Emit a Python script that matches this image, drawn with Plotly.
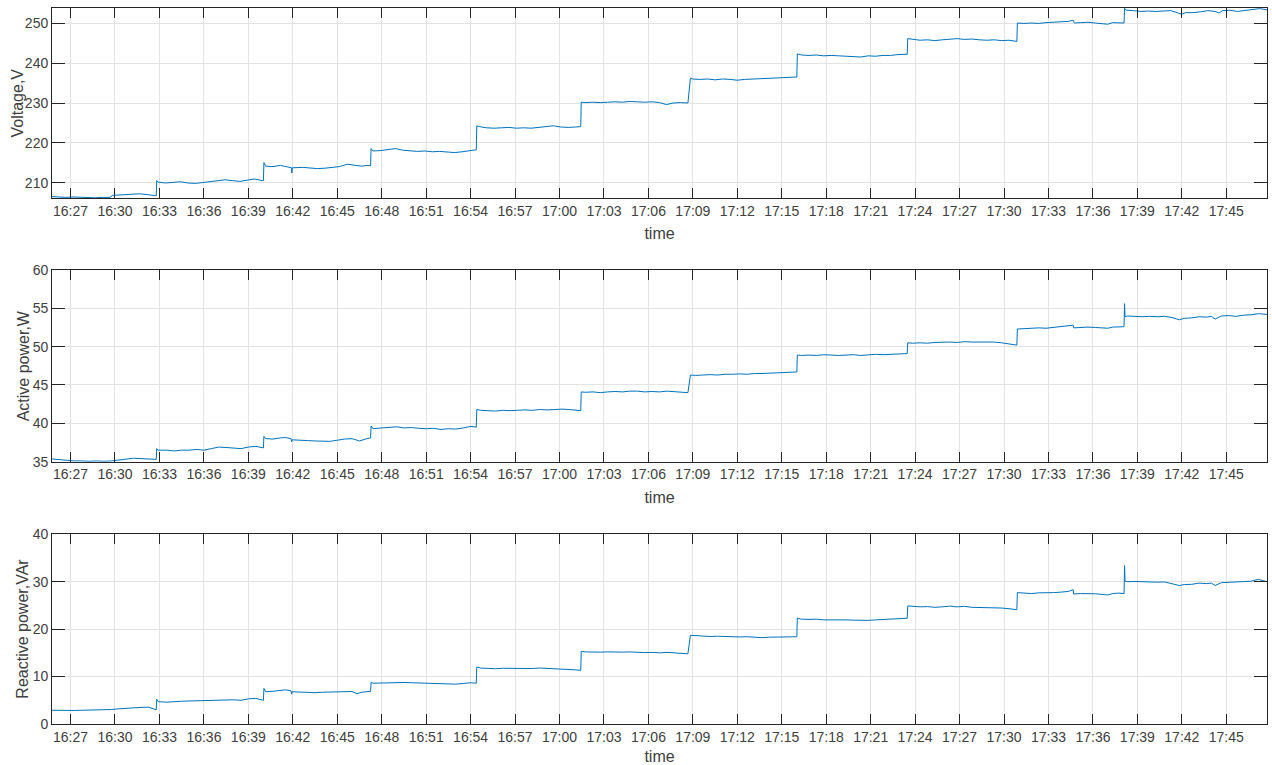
import plotly.graph_objects as go
import pandas as pd

DAY = "2020-01-01 "

# ---------------- Voltage, V ----------------
v_time = ["16:25:45","16:26:10","16:26:40","16:27:10","16:27:40","16:28:10","16:28:40","16:29:10","16:29:40","16:29:50",
          "16:30:20","16:30:50","16:31:10","16:31:40","16:32:10","16:32:40","16:32:47","16:32:49","16:32:55","16:33:25",
          "16:33:55","16:34:25","16:34:55","16:35:25","16:35:55","16:36:25","16:36:55","16:37:25","16:37:55","16:38:25",
          "16:38:55","16:39:25","16:39:55","16:40:01","16:40:03","16:40:10","16:40:40","16:41:10","16:41:40","16:41:55",
          "16:41:56","16:41:58","16:42:40","16:43:10","16:43:40","16:44:10","16:44:40","16:45:10","16:45:40","16:46:10",
          "16:46:40","16:47:00","16:47:15","16:47:17","16:47:25","16:47:55","16:48:25","16:48:55","16:49:25","16:49:55",
          "16:50:25","16:50:55","16:51:25","16:51:55","16:52:25","16:52:55","16:53:25","16:53:55","16:54:23","16:54:25",
          "16:54:35","16:55:05","16:55:35","16:56:05","16:56:35","16:57:05","16:57:35","16:58:05","16:58:35","16:59:05",
          "16:59:35","17:00:05","17:00:35","17:01:05","17:01:26","17:01:28","17:01:45","17:02:15","17:02:45","17:03:15",
          "17:03:45","17:04:15","17:04:45","17:05:15","17:05:45","17:06:15","17:06:45","17:07:13","17:07:40","17:08:10",
          "17:08:40","17:08:50","17:09:00","17:09:30","17:10:00","17:10:30","17:11:00","17:11:30","17:12:00","17:12:30",
          "17:13:00","17:13:30","17:14:00","17:14:30","17:15:00","17:15:40","17:16:01","17:16:03","17:16:20","17:16:50",
          "17:17:20","17:17:50","17:18:20","17:18:50","17:19:20","17:19:50","17:20:20","17:20:50","17:21:20","17:21:50",
          "17:22:20","17:22:50","17:23:28","17:23:30","17:23:50","17:24:20","17:24:50","17:25:20","17:25:50","17:26:20",
          "17:26:50","17:27:20","17:27:50","17:28:20","17:28:50","17:29:20","17:29:50","17:30:20","17:30:40","17:30:52",
          "17:30:54","17:31:20","17:31:50","17:32:20","17:32:50","17:33:20","17:33:50","17:34:20","17:34:40","17:34:45",
          "17:35:10","17:35:40","17:36:10","17:36:40","17:37:00","17:37:20","17:37:45","17:38:06","17:38:08","17:38:15",
          "17:38:45","17:39:15","17:39:45","17:40:15","17:40:45","17:41:15","17:41:45","17:42:00","17:42:15","17:42:45",
          "17:43:15","17:43:45","17:44:15","17:44:30","17:44:45","17:45:15","17:45:45","17:46:15","17:46:45","17:47:15",
          "17:47:45"]
v_val = [206.6,206.5,206.4,206.5,206.4,206.4,206.3,206.4,206.4,206.9,
         207.0,207.1,207.3,207.3,207.1,207.0,206.8,210.6,210.2,210.0,
         210.1,210.3,210.0,209.9,210.1,210.3,210.5,210.8,210.6,210.4,
         210.7,211.0,210.6,210.6,215.1,214.2,214.1,214.4,214.0,213.8,
         212.5,213.8,213.9,213.7,213.6,213.7,213.9,214.1,214.7,214.4,
         214.2,214.4,214.3,218.6,218.0,218.1,218.3,218.6,218.2,218.0,
         217.9,218.0,217.8,217.9,217.7,217.6,217.8,218.0,218.3,224.3,
         224.1,223.8,223.7,223.8,223.9,223.7,223.8,223.7,223.9,224.1,
         224.3,224.0,223.9,224.0,224.1,230.2,230.1,230.2,230.1,230.2,
         230.3,230.2,230.4,230.3,230.2,230.3,230.1,229.6,230.0,230.1,
         230.0,236.2,236.0,235.9,236.0,235.8,236.0,235.9,235.7,235.9,
         236.0,236.1,236.2,236.3,236.4,236.6,236.5,242.3,242.0,241.9,
         242.0,241.8,241.9,241.8,241.7,241.6,241.5,241.8,241.7,241.9,
         241.9,242.1,242.2,246.1,245.9,245.7,245.8,245.6,245.8,246.0,
         246.1,245.9,246.0,245.8,245.7,245.8,245.6,245.7,245.5,245.4,
         250.0,249.9,250.0,249.9,250.1,250.2,250.3,250.4,250.7,250.0,
         250.1,250.2,250.0,249.8,249.7,250.1,250.0,250.0,253.7,253.2,
         253.1,252.9,253.0,252.9,253.0,253.1,252.5,252.2,252.6,252.6,
         252.8,253.1,252.9,252.5,253.1,253.2,252.9,253.1,253.4,253.6,
         253.3]

# ---------------- Active power, W ----------------
p_time = ["16:25:45","16:26:15","16:26:45","16:27:15","16:27:45","16:28:15","16:28:45","16:29:15","16:29:45","16:30:15",
          "16:30:45","16:31:15","16:31:45","16:32:15","16:32:47","16:32:49","16:32:55","16:33:30","16:34:00","16:34:30",
          "16:35:00","16:35:30","16:36:00","16:36:30","16:37:00","16:37:30","16:38:00","16:38:30","16:39:00","16:39:30",
          "16:40:01","16:40:03","16:40:10","16:40:40","16:41:10","16:41:30","16:41:53","16:41:55","16:41:57","16:42:30",
          "16:43:00","16:43:30","16:44:00","16:44:30","16:45:00","16:45:30","16:46:00","16:46:30","16:47:00","16:47:15",
          "16:47:17","16:47:25","16:48:00","16:48:30","16:49:00","16:49:30","16:50:00","16:50:30","16:51:00","16:51:30",
          "16:52:00","16:52:30","16:53:00","16:53:30","16:54:00","16:54:23","16:54:25","16:54:40","16:55:10","16:55:40",
          "16:56:10","16:56:40","16:57:10","16:57:40","16:58:10","16:58:40","16:59:10","16:59:40","17:00:10","17:00:40",
          "17:01:10","17:01:26","17:01:28","17:01:45","17:02:15","17:02:45","17:03:15","17:03:45","17:04:15","17:04:45",
          "17:05:15","17:05:45","17:06:15","17:06:45","17:07:15","17:07:45","17:08:15","17:08:40","17:08:50","17:09:10",
          "17:09:40","17:10:10","17:10:40","17:11:10","17:11:40","17:12:10","17:12:40","17:13:10","17:13:40","17:14:10",
          "17:14:40","17:15:10","17:15:40","17:16:01","17:16:03","17:16:20","17:16:50","17:17:20","17:17:50","17:18:20",
          "17:18:50","17:19:20","17:19:50","17:20:20","17:20:50","17:21:20","17:21:50","17:22:20","17:22:50","17:23:28",
          "17:23:30","17:23:50","17:24:20","17:24:50","17:25:20","17:25:50","17:26:20","17:26:50","17:27:20","17:27:50",
          "17:28:20","17:28:50","17:29:20","17:29:50","17:30:20","17:30:45","17:30:52","17:30:54","17:31:20","17:31:50",
          "17:32:20","17:32:50","17:33:20","17:33:50","17:34:20","17:34:40","17:34:42","17:35:10","17:35:40","17:36:10",
          "17:36:40","17:37:00","17:37:20","17:37:45","17:38:06","17:38:08","17:38:10","17:38:20","17:38:50","17:39:20",
          "17:39:50","17:40:20","17:40:50","17:41:20","17:41:40","17:41:50","17:42:10","17:42:40","17:43:10","17:43:40",
          "17:44:00","17:44:15","17:44:40","17:45:10","17:45:40","17:46:10","17:46:40","17:47:10","17:47:45"]
p_val = [35.35,35.25,35.2,35.1,35.1,35.05,35.1,35.05,35.1,35.2,
         35.35,35.45,35.4,35.35,35.3,36.7,36.5,36.5,36.4,36.5,
         36.5,36.6,36.5,36.7,36.9,36.85,36.8,36.7,36.9,37.0,
         36.8,38.3,38.0,37.95,38.1,38.15,38.0,37.6,37.85,37.75,
         37.75,37.7,37.7,37.65,37.8,37.95,38.0,37.7,38.0,38.1,
         39.65,39.3,39.4,39.5,39.55,39.4,39.45,39.35,39.3,39.35,
         39.2,39.3,39.25,39.4,39.6,39.5,41.8,41.7,41.65,41.6,
         41.7,41.65,41.7,41.75,41.7,41.8,41.75,41.8,41.85,41.8,
         41.7,41.65,44.1,44.05,44.1,44.0,44.1,44.15,44.1,44.2,
         44.2,44.1,44.15,44.1,44.2,44.1,44.05,44.0,46.3,46.25,
         46.3,46.35,46.3,46.4,46.4,46.45,46.4,46.5,46.5,46.55,
         46.6,46.65,46.7,46.7,48.9,48.85,48.9,48.85,48.95,48.9,
         48.85,48.9,48.95,48.85,48.9,49.0,48.95,49.0,49.05,49.1,
         50.5,50.45,50.5,50.45,50.55,50.6,50.6,50.55,50.65,50.6,
         50.6,50.55,50.6,50.5,50.4,50.25,50.2,52.3,52.35,52.4,
         52.45,52.4,52.5,52.6,52.65,52.8,52.45,52.5,52.55,52.5,
         52.45,52.4,52.55,52.6,52.6,55.6,53.9,54.0,53.95,53.9,
         53.95,53.9,53.95,53.8,53.6,53.5,53.7,53.75,53.9,53.85,
         53.95,53.6,54.0,54.05,53.95,54.1,54.15,54.3,54.2]

# ---------------- Reactive power, VAr ----------------
q_time = ["16:25:45","16:26:15","16:26:45","16:27:15","16:27:45","16:28:15","16:28:45","16:29:15","16:29:45","16:30:15",
          "16:30:45","16:31:15","16:31:45","16:32:15","16:32:47","16:32:49","16:32:55","16:33:30","16:34:00","16:34:30",
          "16:35:00","16:35:30","16:36:00","16:36:30","16:37:00","16:37:30","16:38:00","16:38:30","16:39:00","16:39:30",
          "16:40:01","16:40:03","16:40:10","16:40:40","16:41:10","16:41:30","16:41:53","16:41:55","16:41:57","16:42:30",
          "16:43:00","16:43:30","16:44:00","16:44:30","16:45:00","16:45:30","16:46:00","16:46:20","16:46:40","16:47:15",
          "16:47:17","16:47:25","16:48:00","16:48:30","16:49:00","16:49:30","16:50:00","16:50:30","16:51:00","16:51:30",
          "16:52:00","16:52:30","16:53:00","16:53:30","16:54:00","16:54:23","16:54:25","16:54:40","16:55:10","16:55:40",
          "16:56:10","16:56:40","16:57:10","16:57:40","16:58:10","16:58:40","16:59:10","16:59:40","17:00:10","17:00:40",
          "17:01:10","17:01:26","17:01:28","17:01:45","17:02:15","17:02:45","17:03:15","17:03:45","17:04:15","17:04:45",
          "17:05:15","17:05:45","17:06:15","17:06:45","17:07:15","17:07:45","17:08:15","17:08:40","17:08:50","17:09:10",
          "17:09:40","17:10:10","17:10:40","17:11:10","17:11:40","17:12:10","17:12:40","17:13:10","17:13:40","17:14:10",
          "17:14:40","17:15:10","17:15:40","17:16:01","17:16:03","17:16:20","17:16:50","17:17:20","17:17:50","17:18:20",
          "17:18:50","17:19:20","17:19:50","17:20:20","17:20:50","17:21:20","17:21:50","17:22:20","17:22:50","17:23:28",
          "17:23:30","17:23:50","17:24:20","17:24:50","17:25:20","17:25:50","17:26:20","17:26:50","17:27:20","17:27:50",
          "17:28:20","17:28:50","17:29:20","17:29:50","17:30:20","17:30:45","17:30:52","17:30:54","17:31:20","17:31:50",
          "17:32:20","17:32:50","17:33:20","17:33:50","17:34:20","17:34:40","17:34:42","17:35:10","17:35:40","17:36:10",
          "17:36:40","17:37:00","17:37:20","17:37:45","17:38:06","17:38:08","17:38:10","17:38:20","17:38:50","17:39:20",
          "17:39:50","17:40:20","17:40:50","17:41:20","17:41:40","17:41:50","17:42:10","17:42:40","17:43:10","17:43:40",
          "17:44:00","17:44:15","17:44:40","17:45:10","17:45:40","17:46:10","17:46:40","17:47:10","17:47:45"]
q_val = [2.9,2.85,2.8,2.85,2.9,2.9,2.95,3.0,3.05,3.2,
         3.35,3.45,3.5,3.55,3.0,5.2,4.7,4.6,4.75,4.8,
         4.85,4.9,4.95,5.0,5.15,5.2,5.1,5.0,5.3,5.4,
         5.0,7.5,6.8,6.9,7.0,7.2,7.0,6.3,6.8,6.7,
         6.65,6.6,6.7,6.75,6.8,6.7,6.85,6.4,6.7,6.9,
         8.8,8.6,8.65,8.7,8.8,8.75,8.7,8.65,8.6,8.55,
         8.5,8.45,8.4,8.55,8.7,8.6,12.0,11.8,11.7,11.65,
         11.75,11.7,11.8,11.75,11.7,11.8,11.75,11.65,11.6,11.5,
         11.4,11.3,15.3,15.2,15.1,15.15,15.2,15.1,15.15,15.2,
         15.1,15.05,15.1,15.0,15.1,15.0,14.9,14.8,18.7,18.6,
         18.5,18.45,18.5,18.4,18.45,18.35,18.4,18.3,18.2,18.3,
         18.35,18.4,18.5,18.4,22.3,22.1,22.05,22.1,21.95,22.0,
         22.05,21.95,21.9,21.8,21.85,21.95,22.0,22.1,22.2,22.3,
         24.9,24.8,24.7,24.75,24.6,24.7,24.85,24.7,24.8,24.6,
         24.55,24.5,24.6,24.45,24.3,24.2,24.1,27.7,27.6,27.5,
         27.65,27.6,27.7,27.8,27.95,28.3,27.4,27.5,27.55,27.45,
         27.3,27.2,27.5,27.6,27.5,33.4,30.1,30.0,30.05,29.95,
         30.0,29.9,29.95,29.6,29.3,29.2,29.4,29.45,29.7,29.6,
         29.7,29.2,29.8,29.85,29.9,30.0,30.1,30.5,30.0]

x_start = DAY + "16:25:45"
x_end = DAY + "17:47:45"
tick_vals = pd.date_range(DAY + "16:27:00", DAY + "17:45:00", freq="3min")

LINE = "#0072BD"
AX = "#262626"
GRID = "#e3e3e3"
TXT = "#404040"
NARROW = "Liberation Sans Narrow, Arial Narrow, Liberation Sans, Arial, sans-serif"
REG = "Liberation Sans, Arial, sans-serif"

# (times, values, y title, y range, y tick step, y domain, y-title x position in px)
panels = [
    (v_time, v_val, "Voltage,V", [206.25, 253.75], 10, [0.7412, 0.9895], 17.5),
    (p_time, p_val, "Active power,W", [35, 60], 5, [0.3965, 0.6471], 23.5),
    (q_time, q_val, "Reactive power,VAr", [0, 40], 10, [0.0536, 0.3016], 22.5),
]

W, H = 1272, 765
fig = go.Figure()
layout = dict(
    width=W, height=H,
    margin=dict(l=0, r=0, t=0, b=0, autoexpand=False),
    paper_bgcolor="white", plot_bgcolor="white",
    showlegend=False,
)
annotations = []
for i, (t, vals, ylab, yr, dt, dom, tx) in enumerate(panels, start=1):
    xs = pd.to_datetime([DAY + s for s in t])
    fig.add_trace(go.Scatter(x=xs, y=vals, mode="lines",
                             line=dict(color=LINE, width=1),
                             xaxis=f"x{i}", yaxis=f"y{i}"))
    xa = dict(
        domain=[0.0409, 0.9961], anchor=f"y{i}",
        range=[x_start, x_end], type="date",
        tickvals=list(tick_vals), tickformat="%H:%M",
        ticks="inside", ticklen=10, tickcolor=AX, tickwidth=1,
        showline=True, linecolor=AX, linewidth=1, mirror="allticks",
        showgrid=True, gridcolor=GRID, gridwidth=1,
        zeroline=False, automargin=False,
        tickfont=dict(family=NARROW, size=14, color=TXT),
        title=dict(text="time", font=dict(family=NARROW, size=16, color=TXT), standoff=10),
    )
    ya = dict(
        domain=dom, anchor=f"x{i}",
        range=yr, dtick=dt, tick0=0,
        ticks="inside", ticklen=13, tickcolor=AX, tickwidth=1,
        showline=True, linecolor=AX, linewidth=1, mirror="allticks",
        showgrid=True, gridcolor=GRID, gridwidth=1,
        zeroline=False, automargin=False,
        tickfont=dict(family=NARROW, size=14, color=TXT),
    )
    key = "" if i == 1 else str(i)
    layout[f"xaxis{key}"] = xa
    layout[f"yaxis{key}"] = ya
    annotations.append(dict(
        text=ylab, textangle=-90, showarrow=False,
        xref="paper", yref="paper", x=tx / W, y=(dom[0] + dom[1]) / 2,
        xanchor="center", yanchor="middle",
        font=dict(family=REG, size=16, color=TXT),
    ))

layout["annotations"] = annotations
fig.update_layout(**layout)
fig.write_html("out.html")
